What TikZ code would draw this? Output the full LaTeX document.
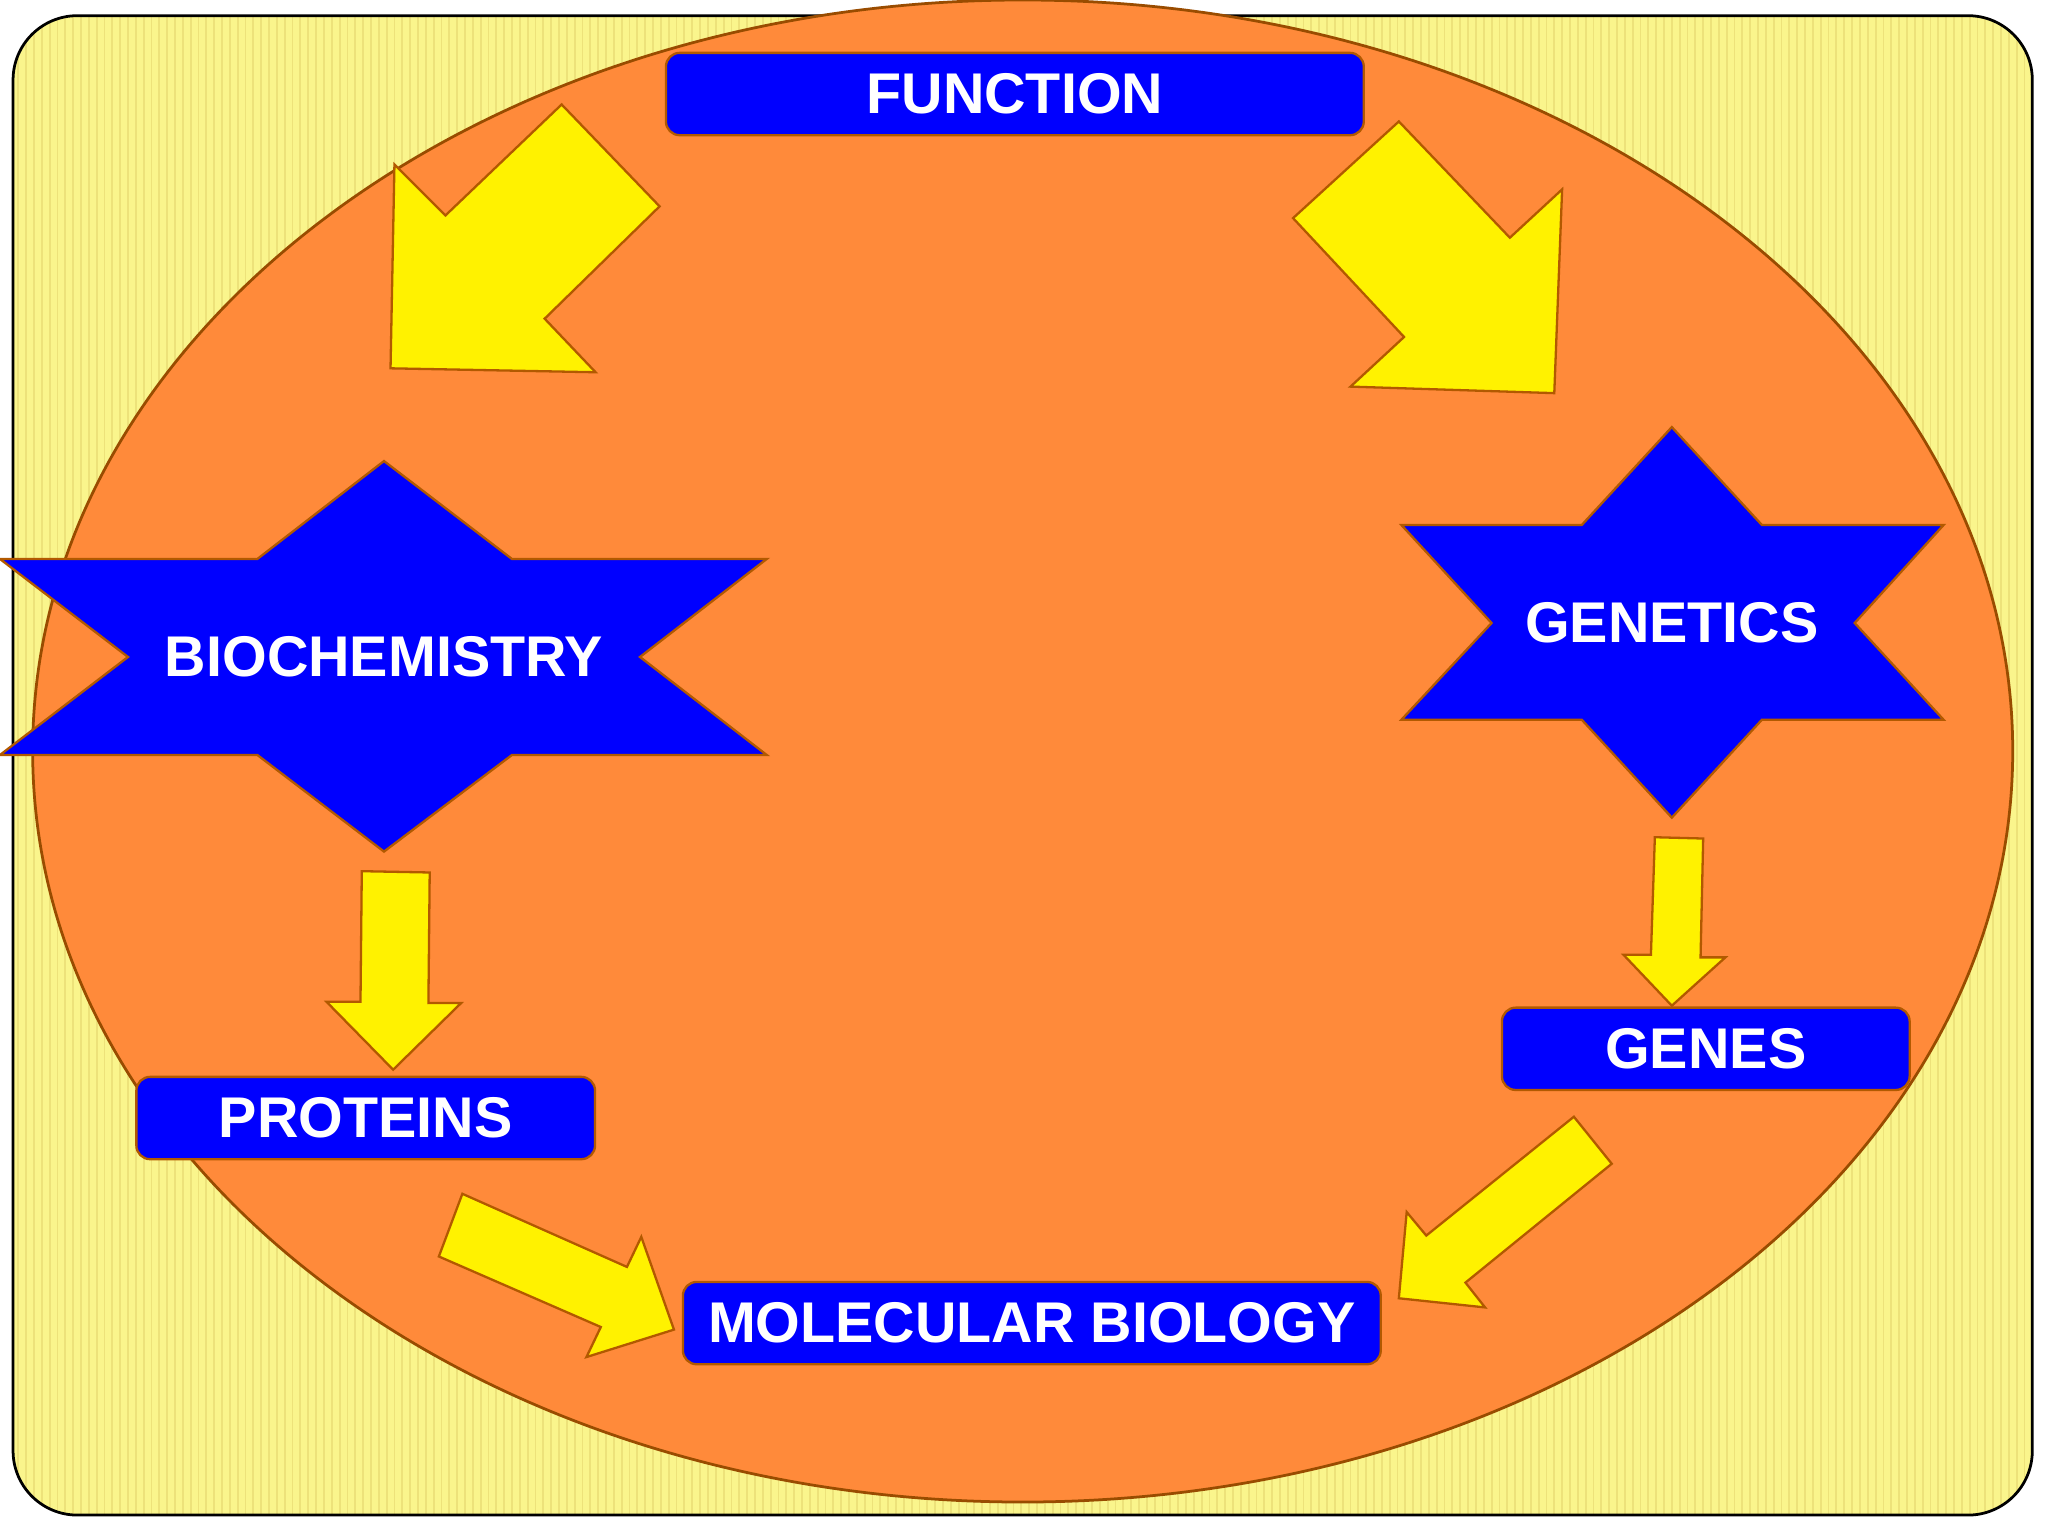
\documentclass[tikz,border=0pt]{standalone}
\usepackage{fontspec}
\setmainfont{Liberation Sans}
\begin{document}
\begin{tikzpicture}[x=0.01cm,y=-0.01cm,
  box/.style={draw=orange!70!black,fill=blue,rounded corners=3pt,line width=0.5pt},
  lbl/.style={text=white,font=\bfseries\fontsize{12.5}{14}\selectfont},
  star/.style={draw=orange!70!black,fill=blue,line width=0.5pt},
  arr/.style={draw=orange!70!black,fill=yellow,line width=0.5pt,line join=miter}]
\useasboundingbox (0,0) rectangle (1568,1176);
\definecolor{bgy}{HTML}{FAF58C}\definecolor{bgs}{HTML}{EDE27A}\definecolor{orng}{HTML}{FF8A3A}
\path[fill=bgy,rounded corners=14pt] (10,12) rectangle (1556,1160);
\begin{scope}
\clip[rounded corners=14pt] (10,12) rectangle (1556,1160);
\foreach \x in {14,20,...,1556} \draw[bgs,line width=0.4pt] (\x,12) -- (\x,1160);
\end{scope}
\draw[black,line width=0.6pt,rounded corners=14pt] (10,12) rectangle (1556,1160);
\draw[fill=orng,draw=orange!60!black,line width=0.6pt] (783,575) ellipse [x radius=758,y radius=575];
% stars
\draw[star] (294,353)--(392,428)--(587,428)--(490,503)--(587,578)--(392,578)--(294,652)--(197,578)--(0,578)--(98,503)--(0,428)--(197,428)--cycle;
\draw[star] (1280,327)--(1349,402)--(1488,402)--(1420,477)--(1488,551)--(1349,551)--(1280,626)--(1211,551)--(1073,551)--(1142,477)--(1073,402)--(1211,402)--cycle;
\node[lbl] (bio) at (294,503) {BIOCHEMISTRY};
\node[lbl] (gen) at (1280,477) {GENETICS};
% boxes
\node[box,lbl,minimum width=534\pgflinewidth,inner sep=0pt,minimum height=0.63cm,minimum width=5.34cm] (fun) at (777,72) {FUNCTION};
\node[box,lbl,inner sep=0pt,minimum height=0.63cm,minimum width=3.51cm] (pro) at (280,856) {PROTEINS};
\node[box,lbl,inner sep=0pt,minimum height=0.63cm,minimum width=3.12cm] (gns) at (1306,803) {GENES};
\node[box,lbl,inner sep=0pt,minimum height=0.63cm,minimum width=5.34cm] (mol) at (790,1013) {MOLECULAR BIOLOGY};
% arrows
\draw[arr] (430,80)--(505,158)--(417,244)--(456,285)--(299,282)--(302,126)--(341,165)--cycle;
\draw[arr] (1071,93)--(1156,182)--(1196,145)--(1190,301)--(1034,296)--(1075,258)--(990,167)--cycle;
\draw[arr] (277,667)--(329,668)--(328,768)--(353,768)--(301,819)--(250,767)--(276,767)--cycle;
\draw[arr] (1267,641)--(1304,642)--(1302,733)--(1321,733)--(1280,770)--(1243,731)--(1264,731)--cycle;
\draw[arr] (354,914)--(480,970)--(491,947)--(516,1018)--(449,1039)--(460,1016)--(336,962)--cycle;
\draw[arr] (1205,855)--(1234,891)--(1122,982)--(1137,1001)--(1071,994)--(1077,928)--(1092,946)--cycle;
\end{tikzpicture}
\end{document}
